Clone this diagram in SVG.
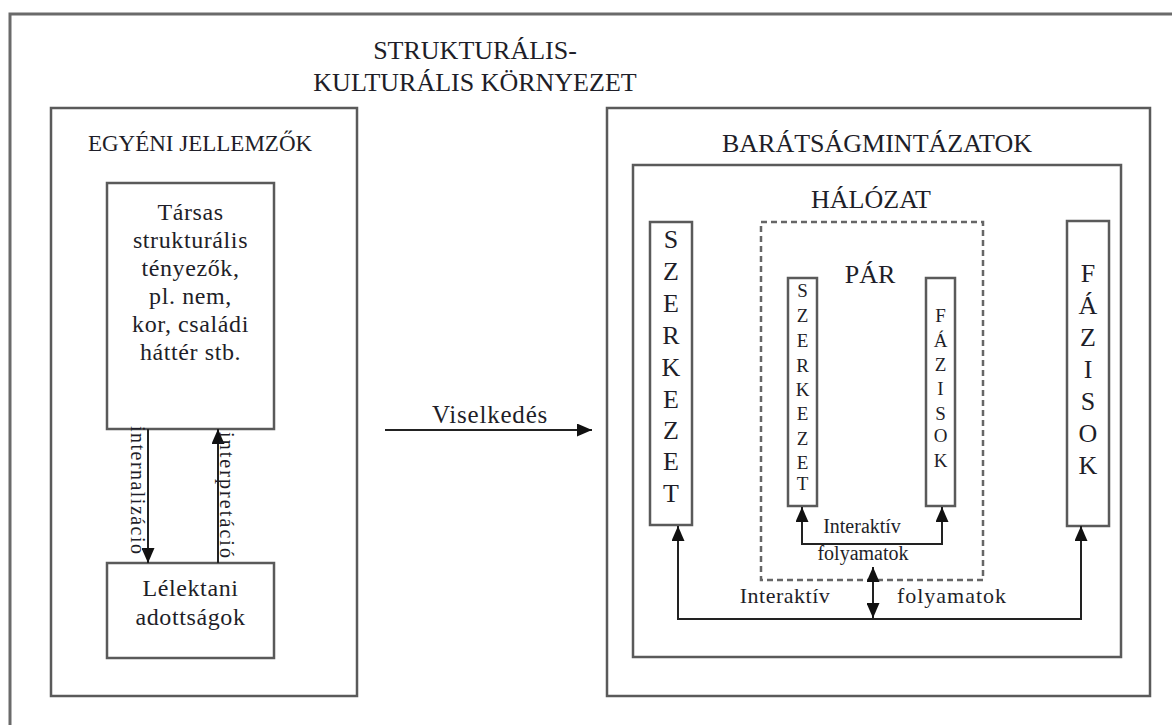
<svg xmlns="http://www.w3.org/2000/svg" width="1172" height="725" viewBox="0 0 1172 725">
<style>
text{font-family:"Liberation Serif","Times New Roman",serif;fill:#1e1e28}
.box{fill:#fff;stroke:#5a5a5a;stroke-width:2.5}
.frame{fill:none;stroke:#6a6a6a;stroke-width:3}
.dash{fill:none;stroke:#666;stroke-width:2.5;stroke-dasharray:6,4}
.ln{fill:none;stroke:#222;stroke-width:2}
.c{text-anchor:middle}
.t26{font-size:26px}
.t24{font-size:24px}
.t20{font-size:20px}
</style>
<defs>
<marker id="ah" viewBox="0 0 15 13" refX="15" refY="6.5" markerWidth="15" markerHeight="13" markerUnits="userSpaceOnUse" orient="auto-start-reverse">
<path d="M0,0 L15,6.5 L0,13 z" fill="#111"/>
</marker>
</defs>
<rect width="1172" height="725" fill="#fff"/>
<g id="env">
<rect class="frame" x="10" y="14" width="1200" height="800"/>
<text class="c t26" x="475" y="59">STRUKTURÁLIS-</text>
<text class="c t26" x="475" y="91">KULTURÁLIS KÖRNYEZET</text>
</g>
<g id="egyeni">
<rect class="box" x="51" y="108" width="306" height="588"/>
<text class="c" font-size="23" x="200" y="151">EGYÉNI JELLEMZŐK</text>
</g>
<g id="tarsas">
<rect class="box" x="107" y="183" width="167" height="246"/>
<text class="c t24" x="190.5" y="220" letter-spacing="0.6">Társas</text>
<text class="c t24" x="190.5" y="248" letter-spacing="0.6">strukturális</text>
<text class="c t24" x="190.5" y="276" letter-spacing="0.6">tényezők,</text>
<text class="c t24" x="190.5" y="304" letter-spacing="0.6">pl. nem,</text>
<text class="c t24" x="190.5" y="332" letter-spacing="0.6">kor, családi</text>
<text class="c t24" x="190.5" y="360" letter-spacing="0.6">háttér stb.</text>
</g>
<g id="lelektani">
<rect class="box" x="107" y="563" width="167" height="95"/>
<text class="c t24" x="190.5" y="596" letter-spacing="0.6">Lélektani</text>
<text class="c t24" x="190.5" y="625" letter-spacing="0.6">adottságok</text>
</g>
<g id="baratsag">
<rect class="box" x="607" y="108" width="543" height="588"/>
<text class="c t26" x="877" y="152">BARÁTSÁGMINTÁZATOK</text>
</g>
<g id="halozat">
<rect class="box" x="633" y="165" width="488" height="492"/>
<text class="c t26" x="871" y="208">HÁLÓZAT</text>
</g>
<g id="par">
<rect class="dash" x="761" y="222" width="222" height="358"/>
<text class="c t26" x="870" y="283">PÁR</text>
</g>
<g id="szerkezet-halozat">
<rect class="box" x="650" y="222" width="42" height="303"/>
<g class="c t26">
<text x="671" y="248">S</text><text x="671" y="280">Z</text><text x="671" y="312">E</text><text x="671" y="344">R</text><text x="671" y="376">K</text><text x="671" y="408">E</text><text x="671" y="439">Z</text><text x="671" y="470">E</text><text x="671" y="502">T</text>
</g>
</g>
<g id="fazisok-halozat">
<rect class="box" x="1067" y="221" width="42" height="305"/>
<g class="c t26">
<text x="1088" y="282">F</text><text x="1088" y="314">Á</text><text x="1088" y="346">Z</text><text x="1088" y="378">I</text><text x="1088" y="410">S</text><text x="1088" y="442">O</text><text x="1088" y="474">K</text>
</g>
</g>
<g id="szerkezet-par">
<rect class="box" x="788" y="278" width="29" height="228"/>
<g class="c" font-size="19">
<text x="802.5" y="297">S</text><text x="802.5" y="322">Z</text><text x="802.5" y="347">E</text><text x="802.5" y="372">R</text><text x="802.5" y="396">K</text><text x="802.5" y="420">E</text><text x="802.5" y="445">Z</text><text x="802.5" y="469">E</text><text x="802.5" y="490">T</text>
</g>
</g>
<g id="fazisok-par">
<rect class="box" x="926" y="278" width="29" height="228"/>
<g class="c" font-size="19">
<text x="940.5" y="322">F</text><text x="940.5" y="347">Á</text><text x="940.5" y="371">Z</text><text x="940.5" y="395">I</text><text x="940.5" y="420">S</text><text x="940.5" y="442">O</text><text x="940.5" y="467">K</text>
</g>
</g>
<g id="connectors">
<line class="ln" x1="148" y1="429" x2="148" y2="563" marker-end="url(#ah)"/>
<line class="ln" x1="218" y1="563" x2="218" y2="429" marker-end="url(#ah)"/>
<line class="ln" x1="385" y1="430" x2="592" y2="430" marker-end="url(#ah)"/>
<polyline class="ln" points="802,507 802,544 942,544 942,507" marker-start="url(#ah)" marker-end="url(#ah)"/>
<polyline class="ln" points="678,526 678,619 1081,619 1081,526" marker-start="url(#ah)" marker-end="url(#ah)"/>
<line class="ln" x1="873" y1="567" x2="873" y2="618" marker-start="url(#ah)" marker-end="url(#ah)"/>
<text font-size="20" transform="translate(131,426) rotate(90)" textLength="128" lengthAdjust="spacing">internalizáció</text>
<text font-size="20" transform="translate(220,432) rotate(90)" textLength="126" lengthAdjust="spacing">interpretáció</text>
<text class="c" font-size="25" x="490" y="423" letter-spacing="0.8">Viselkedés</text>
<text class="c" font-size="20" x="862" y="533">Interaktív</text>
<text class="c" font-size="20" x="863" y="560">folyamatok</text>
<text class="c" font-size="22" x="785" y="603" letter-spacing="0.5">Interaktív</text>
<text class="c" font-size="22" x="952" y="603" letter-spacing="1">folyamatok</text>
</g>
</svg>
